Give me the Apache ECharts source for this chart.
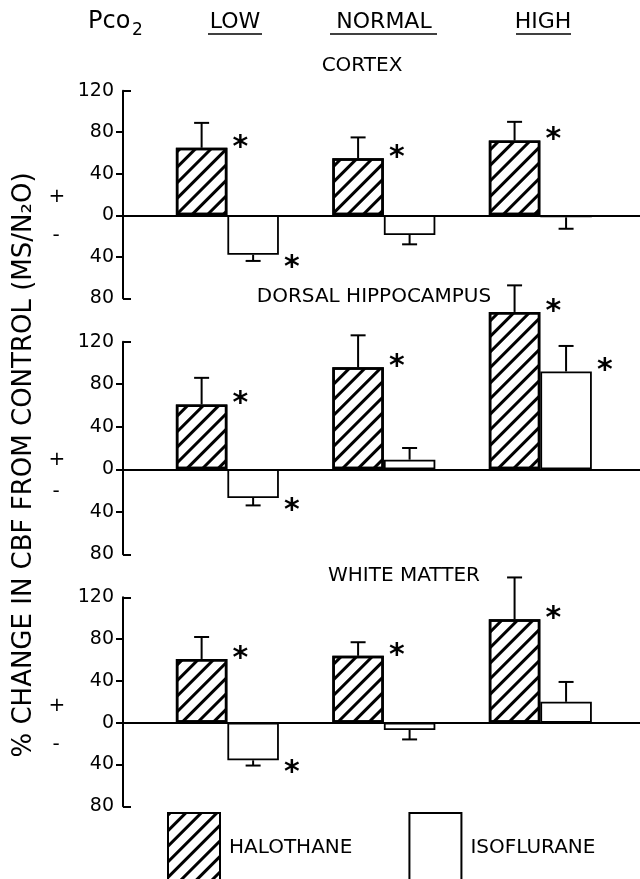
<!DOCTYPE html>
<html>
<head>
<meta charset="utf-8">
<script src="https://cdn.jsdelivr.net/npm/echarts@6/dist/echarts.min.js"></script>
<style>
  html, body { margin: 0; padding: 0; background: #fff; }
  #chart { width: 640px; height: 879px; }
</style>
</head>
<body>
<div id="chart"></div>
<script>
// Pco2 groups, placed at x = 1, 2, 3 on each panel's x axis
const groups = ['LOW', 'NORMAL', 'HIGH'];
const groupX = [1, 2, 3];
const panelNames = ['CORTEX', 'DORSAL HIPPOCAMPUS', 'WHITE MATTER'];
const yTicks = [-80, -40, 0, 40, 80, 120];
const innerTicks = [-40, 0, 40, 80];   // drawn to the left of the axis
const endTicks = [-80, 120];           // the bracket ends, drawn to the right

// % change in CBF, halothane (hatched) and isoflurane (open), with error bar ends
const cortexHalo = [65, 55, 72];
const cortexHaloErr = [89, 75, 90];
const cortexIso = [-38, -19, -2];
const cortexIsoErr = [-44, -28, -13];

const hippoHalo = [61, 96, 148];
const hippoHaloErr = [86, 126, 173];
const hippoIso = [-27, 9, 92];
const hippoIsoErr = [-34, 20, 116];

const whiteHalo = [61, 64, 99];
const whiteHaloErr = [82, 77, 139];
const whiteIso = [-36, -7, 20];
const whiteIsoErr = [-41, -16, 39];

// 1 = marked significant (*)
const cortexHaloSig = [1, 1, 1];
const cortexIsoSig = [1, 0, 0];
const hippoHaloSig = [1, 1, 1];
const hippoIsoSig = [1, 0, 1];
const whiteHaloSig = [1, 1, 1];
const whiteIsoSig = [1, 0, 0];

(function () {
    'use strict';

    const FONT = 'DejaVu Sans';
    const BAR_W = 51.5;

    const panels = [
        { halo: cortexHalo, haloErr: cortexHaloErr, haloSig: cortexHaloSig,
          iso: cortexIso, isoErr: cortexIsoErr, isoSig: cortexIsoSig,
          top: 90.7, height: 207.6 },
        { halo: hippoHalo, haloErr: hippoHaloErr, haloSig: hippoHaloSig,
          iso: hippoIso, isoErr: hippoIsoErr, isoSig: hippoIsoSig,
          top: 341.7, height: 212.6 },
        { halo: whiteHalo, haloErr: whiteHaloErr, haloSig: whiteHaloSig,
          iso: whiteIso, isoErr: whiteIsoErr, isoSig: whiteIsoSig,
          top: 597.3, height: 209 }
    ];

    const hatch = {
        symbol: 'rect',
        symbolSize: 1,
        color: '#000',
        dashArrayX: [1, 0],
        dashArrayY: [3, 8],
        rotation: -Math.PI / 4
    };

    // error bar + asterisk for one series; side -1 = left bar (halothane), +1 = right bar
    function errorSeries(gridIndex, vals, errs, sigs, side) {
        return {
            type: 'custom',
            xAxisIndex: gridIndex,
            yAxisIndex: gridIndex,
            clip: false,
            silent: true,
            z: 5,
            encode: { x: 0, y: 1 },
            data: groupX.map((x, i) => [x, vals[i], errs[i], sigs[i]]),
            renderItem: function (params, api) {
                const x = api.value(0);
                const v = api.value(1);
                const e = api.value(2);
                const sig = api.value(3);
                const pv = api.coord([x, v]);
                const pe = api.coord([x, e]);
                const cx = pv[0] + side * BAR_W / 2;
                const right = side < 0 ? pv[0] : pv[0] + BAR_W;
                const style = { stroke: '#000', lineWidth: 2 };
                const children = [
                    { type: 'line', shape: { x1: cx, y1: pv[1], x2: cx, y2: pe[1] }, style: style },
                    { type: 'line', shape: { x1: cx - 7.5, y1: pe[1], x2: cx + 7.5, y2: pe[1] }, style: style }
                ];
                if (sig) {
                    // the glyph sits high in its box, so the anchor is pushed down
                    children.push({
                        type: 'text',
                        style: {
                            x: right + 13,
                            y: v >= 0 ? pv[1] : pv[1] + 13,
                            text: '*',
                            fontFamily: FONT,
                            fontWeight: 'bold',
                            fontSize: 30,
                            fill: '#000',
                            align: 'center',
                            verticalAlign: 'middle'
                        }
                    });
                }
                return { type: 'group', children: children };
            }
        };
    }

    const grid = [];
    const xAxis = [];
    const yAxis = [];
    const endAxes = [];
    const series = [];

    panels.forEach((p, gi) => {
        grid.push({ left: 123, right: 0, top: p.top, height: p.height });
        xAxis.push({
            type: 'value',
            gridIndex: gi,
            min: 0.333,
            max: 3.637,
            axisLine: { onZero: true, lineStyle: { color: '#000', width: 2 } },
            axisTick: { show: false },
            axisLabel: { show: false },
            splitLine: { show: false }
        });
        yAxis.push({
            type: 'value',
            gridIndex: gi,
            min: -80,
            max: 120,
            interval: 40,
            axisLine: { show: true, onZero: false, lineStyle: { color: '#000', width: 2 } },
            axisTick: { show: true, length: 7, customValues: innerTicks, lineStyle: { color: '#000', width: 2 } },
            axisLabel: {
                color: '#000',
                fontFamily: FONT,
                fontSize: 19,
                margin: 9,
                formatter: v => yTicks.indexOf(v) >= 0 ? String(Math.abs(v)) : ''
            },
            splitLine: { show: false }
        });
        endAxes.push({
            type: 'value',
            gridIndex: gi,
            position: 'left',
            min: -80,
            max: 120,
            interval: 40,
            axisLine: { show: false, onZero: false },
            axisTick: { show: true, inside: true, length: 8, customValues: endTicks, lineStyle: { color: '#000', width: 2 } },
            axisLabel: { show: false },
            splitLine: { show: false }
        });
        series.push({
            name: 'HALOTHANE',
            type: 'bar',
            xAxisIndex: gi,
            yAxisIndex: gi,
            barWidth: BAR_W,
            barGap: '0%',
            clip: false,
            itemStyle: { color: '#fff', borderColor: '#000', borderWidth: 2.5, decal: hatch },
            data: groupX.map((x, i) => [x, p.halo[i]])
        });
        series.push({
            name: 'ISOFLURANE',
            type: 'bar',
            xAxisIndex: gi,
            yAxisIndex: gi,
            barWidth: BAR_W,
            barGap: '0%',
            clip: false,
            itemStyle: { color: '#fff', borderColor: '#000', borderWidth: 1.8 },
            data: groupX.map((x, i) => [x, p.iso[i]])
        });
        series.push(errorSeries(gi, p.halo, p.haloErr, p.haloSig, -1));
        series.push(errorSeries(gi, p.iso, p.isoErr, p.isoSig, 1));
    });

    function label(text, x, y, size, align) {
        return {
            type: 'text',
            x: x,
            y: y,
            style: {
                text: text,
                fontFamily: FONT,
                fontSize: size,
                fill: '#000',
                align: align || 'center',
                verticalAlign: 'middle'
            }
        };
    }

    function underline(x1, x2, y) {
        return {
            type: 'line',
            shape: { x1: x1, y1: y, x2: x2, y2: y },
            style: { stroke: '#000', lineWidth: 1.5 }
        };
    }

    const graphic = [
        label('Pco', 88, 22, 24, 'left'),
        label('2', 132, 31, 17, 'left'),
        label(groups[0], 235, 22, 22),
        label(groups[1], 384, 22, 22),
        label(groups[2], 543, 22, 22),
        underline(208, 262, 34),
        underline(330, 437, 34),
        underline(516, 571, 34),
        label(panelNames[0], 362, 66, 20),
        label(panelNames[1], 374, 297, 20),
        label(panelNames[2], 404, 576, 20),
        {
            type: 'text',
            x: 24,
            y: 465,
            rotation: Math.PI / 2,
            style: {
                text: '% CHANGE IN CBF FROM CONTROL (MS/N₂O)',
                fontFamily: FONT,
                fontSize: 26,
                fill: '#000',
                align: 'center',
                verticalAlign: 'middle'
            }
        },
        label('+', 57, 197, 20),
        label('-', 56, 236, 20),
        label('+', 57, 460, 20),
        label('-', 56, 492, 20),
        label('+', 57, 706, 20),
        label('-', 56, 745, 20)
    ];

    const chart = echarts.init(document.getElementById('chart'));
    chart.setOption({
        animation: false,
        backgroundColor: '#fff',
        grid: grid,
        xAxis: xAxis,
        yAxis: yAxis.concat(endAxes),
        legend: {
            data: ['HALOTHANE', 'ISOFLURANE'],
            left: 167,
            top: 812,
            padding: 0,
            itemWidth: 52,
            itemHeight: 70,
            itemGap: 56,
            icon: 'rect',
            selectedMode: false,
            textStyle: { color: '#000', fontFamily: FONT, fontSize: 20, padding: [0, 0, 0, 4] }
        },
        graphic: graphic,
        series: series
    });
})();
</script>
</body>
</html>
